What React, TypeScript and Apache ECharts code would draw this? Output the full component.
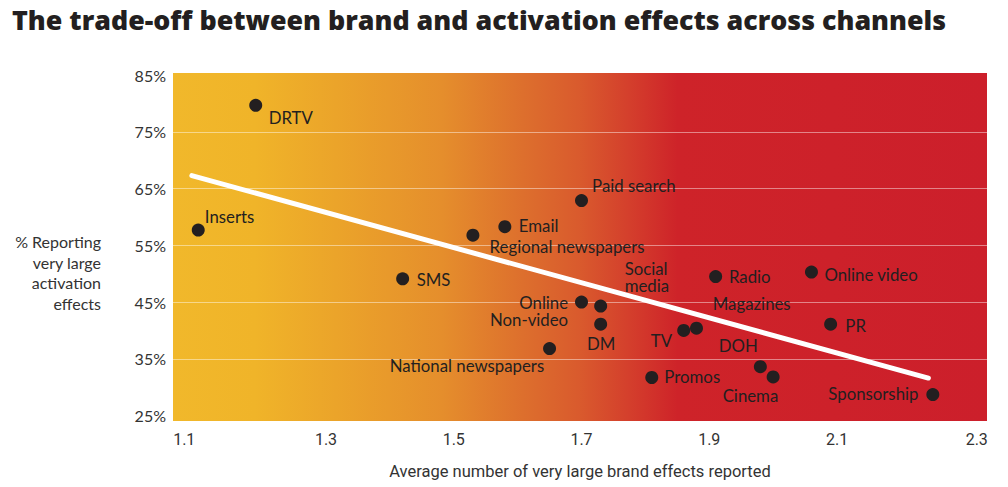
import React, { useEffect, useRef } from 'react';
import * as echarts from 'echarts';

// ---- data ----
const channels = [
  'DRTV', 'Inserts', 'Paid search', 'Email', 'Regional newspapers', 'SMS',
  'Social\nmedia', 'Radio', 'Online video', 'Online\nNon-video', 'DM',
  'National newspapers', 'TV', 'Magazines', 'DOH', 'Cinema', 'Promos', 'PR', 'Sponsorship',
];
const brandEffects = [1.19, 1.10, 1.70, 1.58, 1.53, 1.42, 1.73, 1.91, 2.06, 1.70, 1.73, 1.65, 1.86, 1.88, 1.98, 2.00, 1.81, 2.09, 2.25];
const activationPct = [79.7, 57.7, 62.9, 58.3, 56.8, 49.1, 44.3, 49.5, 50.3, 45.0, 41.1, 36.8, 40.0, 40.4, 33.6, 31.8, 31.7, 41.1, 28.7];
const trendX = [1.09, 2.243];
const trendY = [67.3, 31.6];
const xTicks = [1.1, 1.3, 1.5, 1.7, 1.9, 2.1, 2.3];
const yTicks = [25, 35, 45, 55, 65, 75, 85];
const yGridLines = [35, 45, 55, 65, 75];

// ---- label placement (style, not data): [align, dx, dy] relative to the dot ----
const labelPlacement: Record<string, [string, number, number]> = {
  'DRTV': ['left', 13, 12],
  'Inserts': ['left', 6.6, -14],
  'Paid search': ['left', 10.6, -15],
  'Email': ['left', 14, -1],
  'Regional newspapers': ['left', 16.7, 11],
  'SMS': ['left', 14, 0.5],
  'Social\nmedia': ['left', 24, -29],
  'Radio': ['left', 13.3, 0],
  'Online video': ['left', 13, 2],
  'Online\nNon-video': ['right', -13.4, 9],
  'DM': ['center', 0.5, 19.5],
  'National newspapers': ['right', -5.4, 17],
  'TV': ['right', -11.7, 10],
  'Magazines': ['left', 16.3, -24.5],
  'DOH': ['center', -22, -21],
  'Cinema': ['center', -22.7, 19],
  'Promos': ['left', 12.6, -1],
  'PR': ['left', 14.7, 1],
  'Sponsorship': ['right', -14.4, -1.5],
};

const TEXT = '#231F20';
const SANS = 'Lato, "Open Sans", sans-serif';
const TITLE_FONT = '"Open Sans", Lato, sans-serif';
const NARROW = 'Roboto, "Liberation Sans Narrow", sans-serif';

export default function App() {
  const ref = useRef<HTMLDivElement>(null);

  useEffect(() => {
    document.body.style.margin = '0';
    if (!ref.current) return;
    const chart = echarts.init(ref.current, undefined, { renderer: 'svg' });

    const scatterData = channels.map((name, i) => {
      const p = labelPlacement[name] || ['left', 12, 0];
      const multiLine = name.indexOf('\n') >= 0;
      return {
        name,
        value: [brandEffects[i], activationPct[i]],
        label: {
          show: true,
          position: 'inside',
          formatter: '{b}',
          align: p[0],
          verticalAlign: 'middle',
          offset: [p[1], p[2]],
          color: TEXT,
          fontFamily: SANS,
          fontSize: 16.8,
          lineHeight: multiLine ? 17.5 : 16,
          textBorderWidth: 0,
        },
      };
    });

    const bg = new echarts.graphic.LinearGradient(0, 0, 1, 0, [
      { offset: 0, color: '#F1B82B' },
      { offset: 0.1, color: '#F0B429' },
      { offset: 0.2, color: '#EBA42A' },
      { offset: 0.33, color: '#E58E2C' },
      { offset: 0.43, color: '#DD6F2D' },
      { offset: 0.5, color: '#D95A2D' },
      { offset: 0.56, color: '#D43F2C' },
      { offset: 0.62, color: '#CE2329' },
      { offset: 1, color: '#CC1F2B' },
    ]);

    chart.setOption({
      animation: false,
      title: {
        text: 'The trade-off between brand and activation effects across channels',
        left: 12,
        top: 6,
        padding: 0,
        textStyle: { fontFamily: TITLE_FONT, fontWeight: 800, fontSize: 26.8, color: TEXT },
      },
      grid: {
        left: 173, top: 73, width: 814, height: 348,
        show: true, backgroundColor: bg, borderWidth: 0,
      },
      graphic: [
        {
          type: 'text',
          x: 101,
          y: 272.4,
          style: {
            text: '% Reporting\nvery large\nactivation\neffects',
            align: 'right',
            verticalAlign: 'middle',
            lineHeight: 20.5,
            fontFamily: SANS,
            fontSize: 16,
            fill: '#333',
          },
        },
      ],
      xAxis: {
        type: 'value',
        min: 1.0605,
        max: 2.3348,
        axisLine: { show: false },
        axisTick: { show: false },
        splitLine: { show: false },
        axisLabel: {
          customValues: xTicks,
          margin: 10,
          color: '#333',
          fontFamily: NARROW,
          fontSize: 16,
          formatter: (v: number) => {
            const s = v.toFixed(1);
            if (Math.abs(v - xTicks[0]) < 1e-6) return '{l|' + s + '}';
            if (Math.abs(v - xTicks[xTicks.length - 1]) < 1e-6) return '{r|' + s + '}';
            return '{m|' + s + '}';
          },
          rich: {
            l: { padding: [0, 28, 0, 0], fontFamily: NARROW, fontSize: 16, color: '#333' },
            r: { padding: [0, 0, 0, 24], fontFamily: NARROW, fontSize: 16, color: '#333' },
            m: { fontFamily: NARROW, fontSize: 16, color: '#333' },
          },
        },
        name: 'Average number of very large brand effects reported',
        nameLocation: 'middle',
        nameGap: 42,
        nameTextStyle: { fontFamily: NARROW, fontSize: 16.5, color: '#333' },
      },
      yAxis: {
        type: 'value',
        min: 24.03,
        max: 85.39,
        axisLine: { show: false },
        axisTick: { show: false, customValues: yGridLines },
        axisLabel: {
          customValues: yTicks,
          formatter: '{value}%',
          margin: 7,
          color: '#333',
          fontFamily: SANS,
          fontSize: 16,
        },
        splitLine: { show: true, lineStyle: { color: 'rgba(255,255,255,0.45)', width: 1.2 } },
      },
      series: [
        {
          type: 'line',
          data: [[trendX[0], trendY[0]], [trendX[1], trendY[1]]],
          symbol: 'none',
          silent: true,
          z: 1,
          lineStyle: { color: '#FFFFFF', width: 5, cap: 'round' },
        },
        {
          type: 'scatter',
          data: scatterData,
          symbolSize: 13,
          silent: true,
          z: 3,
          itemStyle: { color: TEXT, opacity: 1 },
        },
      ],
    });

    return () => chart.dispose();
  }, []);

  return <div ref={ref} style={{ width: 1008, height: 487 }} />;
}
